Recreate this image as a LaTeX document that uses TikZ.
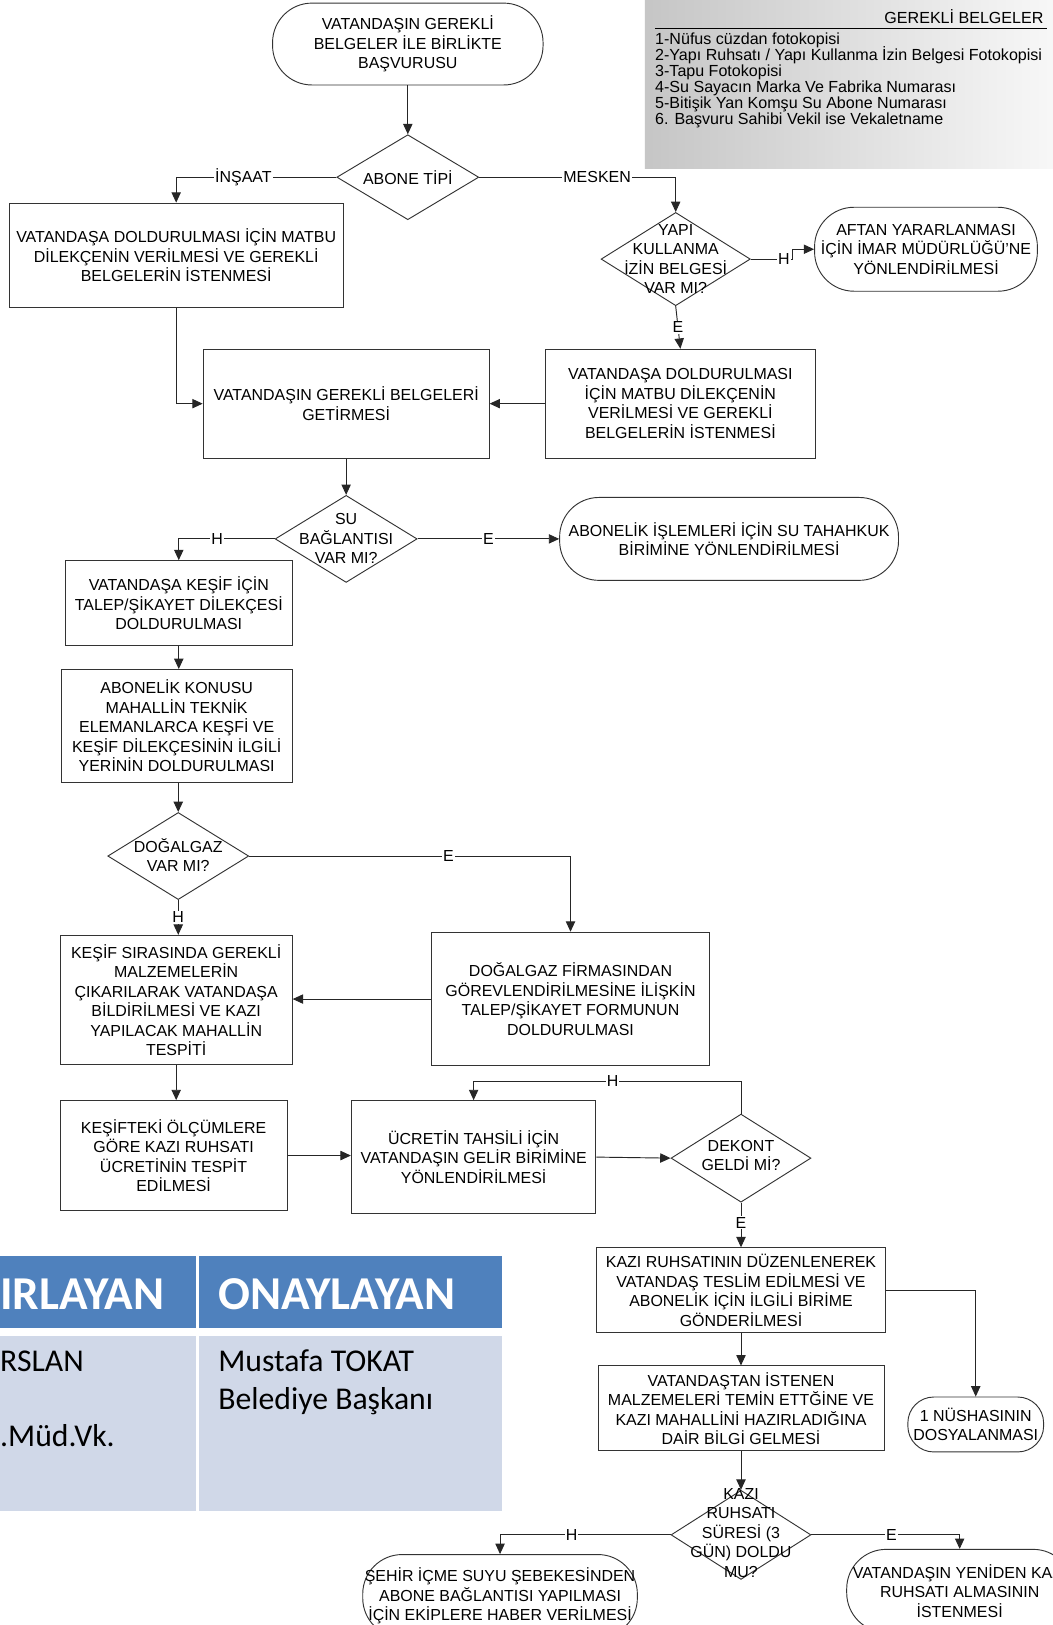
\documentclass[tikz,border=0pt]{standalone}
\usepackage{fontspec}
\setmainfont{Liberation Sans}
\newfontfamily\tablofont{Carlito}
\usetikzlibrary{shapes.geometric,arrows.meta}

\definecolor{tabbaslik}{HTML}{4F81BD}
\definecolor{tabgovde}{HTML}{D0D8E8}

\tikzset{
    yazi/.style={font=\fontsize{15.4}{18.8}\selectfont},
    kutu/.style={yazi, draw=black!80, line width=0.9pt, fill=white, inner sep=1pt, align=center},
    uc/.style={kutu, rounded corners=38pt},
    karar/.style={draw=black!80, line width=0.9pt, diamond, inner sep=0pt},
    kararyazi/.style={yazi, align=center, inner sep=0pt},
    ok/.style={draw=black!85, line width=0.9pt, -{Triangle[length=10pt,width=9pt]}},
    etiket/.style={yazi, fill=white, inner sep=1pt},
    listeyazi/.style={font=\fontsize{15.5}{15.6}\selectfont, inner sep=0pt},
    baslikyazi/.style={font=\tablofont\bfseries\fontsize{45.5}{50}\selectfont, text=white, inner sep=0pt},
    govdeyazi/.style={font=\tablofont\fontsize{30.6}{36}\selectfont, inner sep=0pt},
    hucre/.style={anchor=north west, inner sep=0pt},
}

\begin{document}
\begin{tikzpicture}[x=1pt, y=-1pt]
    \useasboundingbox (0,0) rectangle (1016,1568);
    \fill[white] (0,0) rectangle (1016,1568);
    \clip (0,0) rectangle (1016,1568);

    % gerekli belgeler
    \node[hucre, minimum width=394pt, minimum height=162pt,
        left color=gray!45, right color=gray!6] (belge) at (622,0) {};
    \node[listeyazi, anchor=base east] (belge-b) at (1007,22.5) {GEREKLİ BELGELER};
    \draw[line width=0.8pt] (632,27) -- (1010,27);
    \foreach \belgeadi [count=\i] in {{1-Nüfus cüzdan fotokopisi},
        {2-Yapı Ruhsatı / Yapı Kullanma İzin Belgesi Fotokopisi},
        {3-Tapu Fotokopisi},
        {4-Su Sayacın Marka Ve Fabrika Numarası},
        {5-Bitişik Yan Komşu Su Abone Numarası},
        {6. Başvuru Sahibi Vekil ise Vekaletname}}
        \node[listeyazi, anchor=base west] (belge-\i) at (632,{42.5+15.6*(\i-1)}) {\belgeadi};

    % akis
    \node[uc, minimum width=261pt, minimum height=79pt] (basv) at (393.5,42.5)
        {VATANDAŞIN GEREKLİ\\BELGELER İLE BİRLİKTE\\BAŞVURUSU};
    \node[karar, minimum width=137pt, minimum height=82pt] (tip) at (393.5,171) {};
    \node[kararyazi] (tip-y) at (tip) {ABONE TİPİ};
    \node[kutu, minimum width=322pt, minimum height=101pt] (dil1) at (170,246.5)
        {VATANDAŞA DOLDURULMASI İÇİN MATBU\\DİLEKÇENİN VERİLMESİ VE  GEREKLİ\\BELGELERİN İSTENMESİ};
    \node[karar, minimum width=144pt, minimum height=90pt] (yki) at (652,250) {};
    \node[kararyazi] (yki-y) at (yki) {YAPI\\KULLANMA\\İZİN BELGESİ\\VAR MI?};
    \node[uc, minimum width=215pt, minimum height=81pt] (aftan) at (893.5,240.5)
        {AFTAN YARARLANMASI\\İÇİN İMAR MÜDÜRLÜĞÜ'NE\\YÖNLENDİRİLMESİ};
    \node[kutu, minimum width=261pt, minimum height=105pt] (dil2) at (656.5,389.5)
        {VATANDAŞA DOLDURULMASI\\İÇİN MATBU DİLEKÇENİN\\VERİLMESİ VE  GEREKLİ\\BELGELERİN İSTENMESİ};
    \node[kutu, minimum width=276pt, minimum height=105pt] (getir) at (334,389.5)
        {VATANDAŞIN GEREKLİ BELGELERİ\\GETİRMESİ};
    \node[karar, minimum width=137pt, minimum height=84pt] (su) at (334,520) {};
    \node[kararyazi] (su-y) at (su) {SU\\BAĞLANTISI\\VAR MI?};
    \node[uc, minimum width=327pt, minimum height=80pt] (abon) at (703.5,520)
        {ABONELİK İŞLEMLERİ İÇİN SU TAHAHKUK\\BİRİMİNE YÖNLENDİRİLMESİ};
    \node[kutu, minimum width=219pt, minimum height=82pt] (talep) at (172.5,582)
        {VATANDAŞA KEŞİF İÇİN\\TALEP/ŞİKAYET DİLEKÇESİ\\DOLDURULMASI};
    \node[kutu, minimum width=223pt, minimum height=109pt] (konu) at (170.5,700.5)
        {ABONELİK KONUSU\\MAHALLİN TEKNİK\\ELEMANLARCA KEŞFİ VE\\KEŞİF DİLEKÇESİNİN  İLGİLİ\\YERİNİN DOLDURULMASI};
    \node[karar, minimum width=136pt, minimum height=84pt] (dog) at (172,826) {};
    \node[kararyazi] (dog-y) at (172,825) {DOĞALGAZ\\VAR MI?};
    \node[kutu, minimum width=269pt, minimum height=129pt] (firma) at (550.5,964)
        {DOĞALGAZ FİRMASINDAN\\GÖREVLENDİRİLMESİNE İLİŞKİN\\TALEP/ŞİKAYET FORMUNUN\\DOLDURULMASI};
    \node[kutu, minimum width=224pt, minimum height=125pt] (sira) at (170,965)
        {KEŞİF SIRASINDA GEREKLİ\\MALZEMELERİN\\ÇIKARILARAK VATANDAŞA\\BİLDİRİLMESİ VE KAZI\\YAPILACAK MAHALLİN\\TESPİTİ};
    \node[kutu, minimum width=219pt, minimum height=106pt] (olcum) at (167.5,1115)
        {KEŞİFTEKİ ÖLÇÜMLERE\\GÖRE KAZI RUHSATI\\ÜCRETİNİN TESPİT\\EDİLMESİ};
    \node[kutu, minimum width=236pt, minimum height=109pt] (ucret) at (457,1116.5)
        {ÜCRETİN TAHSİLİ İÇİN\\VATANDAŞIN GELİR BİRİMİNE\\YÖNLENDİRİLMESİ};
    \node[karar, minimum width=135pt, minimum height=85pt] (dekont) at (715,1117.5) {};
    \node[kararyazi] (dekont-y) at (715,1115) {DEKONT\\GELDİ Mİ?};
    \node[kutu, minimum width=278pt, minimum height=82pt] (kazi) at (715,1245)
        {KAZI RUHSATININ DÜZENLENEREK\\VATANDAŞ TESLİM EDİLMESİ VE\\ABONELİK İÇİN İLGİLİ BİRİME\\GÖNDERİLMESİ};
    \node[kutu, minimum width=276pt, minimum height=82pt] (bilgi) at (715,1359)
        {VATANDAŞTAN İSTENEN\\MALZEMELERİ TEMİN ETTĞİNE VE\\KAZI MAHALLİNİ HAZIRLADIĞINA\\DAİR BİLGİ GELMESİ};
    \node[uc, rounded corners=25pt, minimum width=131pt, minimum height=53pt] (nush) at (941.5,1374.5)
        {1 NÜSHASININ\\DOSYALANMASI};
    \node[karar, minimum width=135pt, minimum height=86pt] (sure) at (715,1481) {};
    \node[kararyazi] (sure-y) at (715,1479) {KAZI\\RUHSATI\\SÜRESİ (3\\GÜN) DOLDU\\MU?};
    \node[uc, minimum width=265pt, minimum height=80pt] (sehir) at (482.5,1540)
        {ŞEHİR İÇME SUYU ŞEBEKESİNDEN\\ABONE BAĞLANTISI YAPILMASI\\İÇİN EKİPLERE HABER VERİLMESİ};
    \node[uc, minimum width=218pt, minimum height=80pt] (yeni) at (926,1535)
        {VATANDAŞIN YENİDEN KAZI\\RUHSATI ALMASININ\\İSTENMESİ};

    % baglantilar
    \draw[ok] (basv) -- (tip);
    \draw[ok] (tip.west) -| node[etiket, pos=0.29]{İNŞAAT} (dil1.north);
    \draw[ok] (tip.east) -| node[etiket, pos=0.3]{MESKEN} (yki.north);
    \draw[ok] (yki.east) -- node[etiket, pos=0.8]{H} ++(40,0) |- (aftan.west);
    \draw[ok] (yki.south) -- node[etiket]{E} (dil2.north);
    \draw[ok] (dil1.south) |- (getir.west);
    \draw[ok] (dil2.west) -- (getir.east);
    \draw[ok] (getir.south) -- (su.north);
    \draw[ok] (su.west) -| node[etiket, pos=0.3]{H} (talep.north);
    \draw[ok] (su.east) -- node[etiket]{E} (abon.west);
    \draw[ok] (talep.south) -- (talep.south |- konu.north);
    \draw[ok] (konu.south -| dog.north) -- (dog.north);
    \draw[ok] (dog.east) -| node[etiket, pos=0.31]{E} (firma.north);
    \draw[ok] (dog.south) -- node[etiket]{H} (dog.south |- sira.north);
    \draw[ok] (firma.west) -- (firma.west -| sira.east);
    \draw[ok] (sira.south) -- (sira.south |- olcum.north);
    \draw[ok] (olcum.east) -- (olcum.east -| ucret.west);
    \draw[ok] (ucret.east) -- (dekont.west);
    \draw[ok] (dekont.north) -- ++(0,-31) -| node[etiket, pos=0.24]{H} (ucret.north);
    \draw[ok] (dekont.south) -- node[etiket, pos=0.45]{E} (kazi.north);
    \draw[ok] (kazi.east) -| (nush.north);
    \draw[ok] (kazi.south) -- (bilgi.north);
    \draw[ok] (bilgi.south) -- (sure.north);
    \draw[ok] (sure.west) -| node[etiket, pos=0.29]{H} (sehir.north);
    \draw[ok] (sure.east) -| node[etiket, pos=0.27]{E} (yeni.north);

    % onay tablosu
    \node[hucre, fill=tabbaslik, minimum width=189pt, minimum height=69pt] (hb1) at (0,1212) {};
    \node[hucre, fill=tabbaslik, minimum width=292pt, minimum height=69pt] (hb2) at (192,1212) {};
    \node[hucre, fill=tabgovde, minimum width=189pt, minimum height=169pt] (gv1) at (0,1289) {};
    \node[hucre, fill=tabgovde, minimum width=292pt, minimum height=169pt] (gv2) at (192,1289) {};
    \node[baslikyazi, anchor=base west] (hb1-y) at (0,1264) {IRLAYAN};
    \node[baslikyazi, anchor=base west] (hb2-y) at (210.5,1264) {ONAYLAYAN};
    \node[govdeyazi, anchor=base west] (gv1-a) at (0,1323.5) {RSLAN};
    \node[govdeyazi, anchor=base west] (gv1-b) at (0,1396) {.Müd.Vk.};
    \node[govdeyazi, anchor=base west] (gv2-a) at (210.5,1323.5) {Mustafa TOKAT};
    \node[govdeyazi, anchor=base west] (gv2-b) at (210.5,1360) {Belediye Başkanı};
\end{tikzpicture}
\end{document}
